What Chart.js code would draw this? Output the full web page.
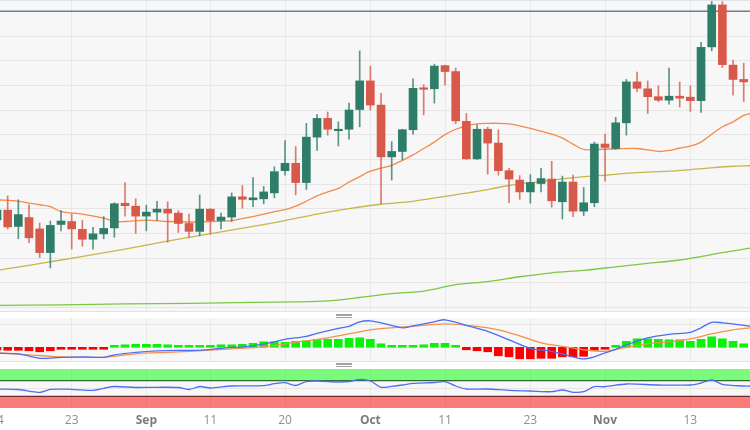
<!DOCTYPE html>
<html>
<head>
<meta charset="utf-8">
<script src="https://cdn.jsdelivr.net/npm/chart.js@4.4.0/dist/chart.umd.min.js"></script>
<style>
  body { margin: 0; background: #fff; width: 750px; height: 430px; overflow: hidden; position: relative; }
  canvas { position: absolute; left: 0; }
  .line { position: absolute; left: 0; width: 750px; height: 1px; background: #dfe4ea; }
  .grip { position: absolute; left: 336px; width: 16px; height: 1.5px; background: #a3a3a3; }
</style>
</head>
<body>
<canvas id="mainChart" width="750" height="311" style="top:0"></canvas>
<div class="line" style="top:0"></div>
<div class="line" style="top:311px"></div>
<div class="grip" style="top:314px"></div>
<div class="grip" style="top:316.5px"></div>
<canvas id="macdChart" width="750" height="43" style="top:318px"></canvas>
<div class="line" style="top:361px"></div>
<div class="grip" style="top:363px"></div>
<div class="grip" style="top:365.5px"></div>
<canvas id="rsiChart" width="750" height="61" style="top:369px"></canvas>

<script>
// daily candles, Aug 14 -> Nov 20 (trading days only, index 0..70)
const open = [160.27,160.47,160.14,160.32,160.09,159.61,160.18,160.24,160.08,159.88,
  159.99,160.11,160.61,160.55,160.35,160.43,160.49,160.41,160.20,160.04,
  160.49,160.26,160.33,160.74,160.68,160.70,160.82,161.27,161.42,161.03,
  161.95,162.33,162.08,162.11,162.51,163.09,162.60,161.55,161.66,162.10,
  162.95,162.93,163.40,163.28,162.27,161.51,162.11,161.83,161.27,161.08,
  160.84,161.01,161.10,160.64,161.04,160.45,160.62,161.81,161.72,162.24,
  163.07,162.93,162.77,162.70,162.78,162.76,162.69,163.78,164.63,163.41,
  163.12];
const high = [160.57,160.76,160.68,160.58,160.21,160.25,160.46,160.39,160.26,160.12,
  160.34,160.62,161.03,160.70,160.57,160.65,160.64,160.46,160.39,160.78,
  160.50,160.41,160.82,160.97,161.13,160.95,161.35,161.88,161.76,162.23,
  162.41,162.46,162.26,162.64,163.70,163.39,162.84,161.86,162.11,163.13,
  163.01,163.43,163.41,163.35,162.43,162.20,162.15,162.10,161.32,161.17,
  161.19,161.32,161.46,161.16,161.18,160.93,161.85,162.01,162.35,163.12,
  163.27,163.09,162.99,163.35,163.07,162.99,163.87,164.70,164.70,163.51,
  163.45];
const low = [160.17,160.09,159.89,159.81,159.51,159.30,160.05,159.68,159.74,159.68,
  159.89,159.92,160.35,160.00,160.05,160.26,159.82,160.02,159.92,159.95,
  159.98,160.09,160.24,160.51,160.54,160.60,160.72,161.18,160.78,160.89,
  161.68,161.99,161.77,161.91,162.16,162.50,160.60,161.08,161.49,162.01,
  162.40,162.64,163.01,162.22,161.50,161.50,161.20,161.18,160.62,160.69,
  160.61,160.84,160.53,160.29,160.34,160.36,160.54,161.06,161.71,161.99,
  162.87,162.43,162.67,162.62,162.56,162.47,162.45,163.70,163.36,162.80,
  162.67];
const close = [160.47,160.13,160.38,159.91,159.61,160.16,160.25,160.09,159.88,159.99,
  160.10,160.60,160.56,160.35,160.43,160.49,160.41,160.20,160.04,160.49,
  160.26,160.33,160.74,160.69,160.72,160.84,161.25,161.42,161.03,161.95,
  162.33,162.11,162.11,162.50,163.09,162.60,161.55,161.66,162.10,162.94,
  162.92,163.39,163.28,162.28,161.51,162.11,161.83,161.27,161.10,160.84,
  161.03,161.11,160.66,161.04,160.45,160.62,161.81,161.74,162.24,163.07,
  162.94,162.77,162.70,162.78,162.74,162.69,163.77,164.63,163.42,163.12,
  163.07];

// moving averages (x = candle index)
const maFastIdx = [0,2,4,5,6,8,10,11,12,14,16,18,20,22,24,25,26,27,28,29,30,31,32,33,34,35,36,37,38,39,40,41,42,43,44,45,46,47,48,49,50,51,52,53,54,55,56,58,60,62,63,64,65,66,67,68,69,70,70.6];
const maFastVal = [160.68,160.65,160.58,160.54,160.44,160.39,160.31,160.24,160.24,160.27,160.24,160.23,160.24,160.26,160.34,160.39,160.44,160.48,160.55,160.65,
  160.76,160.84,160.91,161.04,161.15,161.26,161.32,161.38,161.48,161.59,161.72,161.85,162.00,162.11,162.18,162.22,162.23,162.23,162.22,162.18,162.13,162.07,162.01,161.93,161.81,161.70,161.70,
  161.71,161.72,161.66,161.68,161.73,161.77,161.85,162.01,162.16,162.26,162.39,162.43];
const maMidIdx = [0,3,6,9,12,15,18,21,24,27,30,33,36,39,42,45,48,51,54,57,60,63,66,69,70.6];
const maMidVal = [159.25,159.35,159.46,159.57,159.68,159.80,159.92,160.03,160.14,160.26,160.39,160.50,160.59,160.65,160.75,160.85,160.97,161.05,161.13,161.18,161.23,161.26,161.31,161.36,161.37];
const maSlowIdx = [0,6,12,18,24,28,31,34,37,40,43,46,49,52,55,58,61,64,66,68,70.6];
const maSlowVal = [158.54,158.55,158.57,158.58,158.60,158.61,158.63,158.70,158.78,158.83,158.96,159.02,159.12,159.20,159.25,159.32,159.39,159.46,159.53,159.61,159.70];
const levels = [164.5];

// MACD panel
const macdHist = [-0.05,-0.06,-0.06,-0.07,-0.09,-0.07,-0.04,-0.03,-0.03,-0.03,
  -0.01,0.04,0.05,0.06,0.06,0.06,0.05,0.03,0.03,0.03,
  0.03,0.05,0.05,0.06,0.08,0.11,0.11,0.10,0.12,0.13,
  0.16,0.16,0.16,0.18,0.19,0.16,0.07,0.01,0.01,0.04,
  0.05,0.08,0.08,0.01,-0.05,-0.07,-0.09,-0.17,-0.19,-0.23,
  -0.23,-0.22,-0.22,-0.19,-0.19,-0.18,-0.06,-0.04,0.03,0.12,
  0.17,0.17,0.16,0.15,0.15,0.12,0.16,0.21,0.17,0.12,
  0.07];
const macdIdx = [0,2,4,6,8,10,11,13,15,17,19,21,24,26,27,29,30,32,33,34,35,36,38,39,41,42,44,46,48,50,52,54,55,56,57,58,59,61,63,65,66,67,68,70,70.6];
const macdVal = [-0.12,-0.13,-0.22,-0.20,-0.19,-0.20,-0.15,-0.10,-0.07,-0.06,-0.06,-0.02,0.03,0.11,0.16,0.22,0.28,0.38,0.42,0.51,
  0.53,0.49,0.39,0.43,0.51,0.55,0.44,0.32,0.15,-0.02,-0.08,-0.19,-0.23,-0.19,-0.11,-0.04,0.05,0.19,0.26,0.30,0.39,0.50,0.49,0.44,0.42];
const signalIdx = [0,3,6,10,13,16,18,22,25,28,31,34,35,37,39,42,45,47,49,51,53,55,57,59,61,63,65,67,69,70.6];
const signalVal = [-0.11,-0.15,-0.19,-0.20,-0.13,-0.10,-0.08,-0.03,0.01,0.10,0.19,0.31,0.35,0.39,0.42,0.47,0.42,0.35,0.23,0.09,0.02,-0.05,-0.08,0.00,0.07,0.11,0.17,0.27,0.35,0.39];

// RSI panel
const rsiIdx = [0,2,4,5,7,9,10,11,13,15,17,18,19,20,22,25,26,27,28,29,30,32,33,34,35,36,37,38,39,41,42,43,44,46,48,50,52,53,54,55,56,57,59,62,65,66,67,68,70,70.6];
const rsiVal = [48.7,47.4,40.3,47.9,47.9,45.4,50.5,55.1,52.6,53.1,52.6,47.4,55.1,51.3,56.4,57.2,62.3,64.9,57.7,67.9,
  69.2,66.7,67.9,73.1,69.2,53.1,55.6,59.0,63.3,65.4,67.4,56.4,48.7,48.7,45.4,43.6,41.8,46.2,40.3,41.8,
  54.6,54.6,61.5,59.0,59.0,64.1,71.8,60.8,56.4,56.4];
const rsiLevels = [30, 70];

// x axis labels
const tickIdx = [0, 7, 14, 20, 27, 35, 42, 50, 57, 65];
const tickLabels = ["14", "23", "Sep", "11", "20", "Oct", "11", "23", "Nov", "13"];

const xMin = 0.28;
const xMax = 70.59;
const UP = "#2e7d69";
const DOWN = "#d8594a";

const pts = (xs, ys) => xs.map((x, i) => ({ x: x, y: ys[i] }));
const isMonth = (i) => isNaN(Number(tickLabels[i]));

const bgPlugin = {
  id: "bg",
  beforeDraw(chart) {
    const { ctx, chartArea: a } = chart;
    ctx.save();
    ctx.fillStyle = "#f7f7f7";
    ctx.fillRect(a.left, a.top, a.right - a.left, a.bottom - a.top);
    ctx.restore();
  },
};

function xAxis(showLabels) {
  return {
    type: "linear",
    min: xMin,
    max: xMax,
    offset: false,
    grid: { color: "#e8e8e8", drawTicks: false, offset: false },
    border: { display: false },
    afterBuildTicks: (scale) => {
      scale.ticks = tickIdx.map((v) => ({ value: v }));
    },
    ticks: showLabels
      ? {
          autoSkip: false,
          maxRotation: 0,
          padding: 5,
          callback: (value, index) => tickLabels[index],
          color: (c) => (isMonth(c.index) ? "#7b7b7b" : "#8e8e8e"),
          font: (c) => ({ family: "Open Sans", size: 12, weight: isMonth(c.index) ? "bold" : "normal" }),
        }
      : { display: false },
    afterFit: (scale) => {
      scale.height = showLabels ? 22 : 0;
      scale.paddingLeft = 0;
      scale.paddingRight = 0;
    },
  };
}

function yAxis(min, max, ticks) {
  return {
    min: min,
    max: max,
    grid: { color: "#e6e6e6", drawTicks: false },
    border: { display: false },
    ticks: { display: false },
    afterBuildTicks: (scale) => {
      scale.ticks = ticks.map((v) => ({ value: v }));
    },
    afterFit: (scale) => {
      scale.width = 0;
    },
  };
}

function baseOptions(scales) {
  return {
    responsive: false,
    animation: false,
    layout: { padding: 0 },
    plugins: { legend: { display: false }, tooltip: { enabled: false } },
    scales: scales,
  };
}

function lineSet(data, color, width, order) {
  return {
    type: "line",
    data: data,
    borderColor: color,
    borderWidth: width,
    pointRadius: 0,
    tension: 0.3,
    fill: false,
    order: order,
  };
}

// main price panel
const candleColor = (i) => (close[i] >= open[i] ? UP : DOWN);
const priceTicks = [158.5, 159, 159.5, 160, 160.5, 161, 161.5, 162, 162.5, 163, 163.5, 164];

new Chart(document.getElementById("mainChart"), {
  type: "bar",
  data: {
    datasets: [
      {
        data: open.map((o, i) => ({ x: i, y: [low[i], high[i]] })),
        backgroundColor: open.map((o, i) => candleColor(i) + "cc"),
        barThickness: 1,
        grouped: false,
        order: 1,
      },
      {
        data: open.map((o, i) => ({ x: i, y: [Math.min(o, close[i]), Math.max(o, close[i])] })),
        backgroundColor: open.map((o, i) => candleColor(i)),
        barThickness: 8,
        minBarLength: 1.5,
        grouped: false,
        order: 0,
      },
      lineSet(pts(maFastIdx, maFastVal), "#f58a4b", 1.3, 3),
      lineSet(pts(maMidIdx, maMidVal), "#c6b64c", 1.3, 4),
      lineSet(pts(maSlowIdx, maSlowVal), "#7cc842", 1.3, 5),
      lineSet([{ x: xMin, y: levels[0] }, { x: xMax, y: levels[0] }], "#6f7d90", 1.5, 2),
    ],
  },
  options: baseOptions({ x: xAxis(false), y: yAxis(158.426, 164.73, priceTicks) }),
  plugins: [bgPlugin],
});

// MACD panel
new Chart(document.getElementById("macdChart"), {
  type: "bar",
  data: {
    datasets: [
      {
        data: macdHist.map((v, i) => ({ x: i, y: v })),
        backgroundColor: macdHist.map((v) => (v >= 0 ? "#0af20a" : "#fb0000")),
        barThickness: 8,
        minBarLength: 2,
        grouped: false,
        order: 3,
      },
      lineSet(pts(signalIdx, signalVal), "#f5914e", 1.3, 1),
      lineSet(pts(macdIdx, macdVal), "#4c6ef2", 1.3, 0),
    ],
  },
  options: baseOptions({ x: xAxis(false), y: yAxis(-0.274, 0.586, [0.45]) }),
  plugins: [bgPlugin],
});

// RSI panel
new Chart(document.getElementById("rsiChart"), {
  type: "line",
  data: {
    datasets: [
      {
        data: [{ x: xMin, y: rsiLevels[1] }, { x: xMax, y: rsiLevels[1] }],
        borderColor: "#2f6b2f",
        borderWidth: 1.3,
        backgroundColor: "rgba(0,255,0,0.5)",
        fill: "end",
        pointRadius: 0,
        order: 2,
      },
      {
        data: [{ x: xMin, y: rsiLevels[0] }, { x: xMax, y: rsiLevels[0] }],
        borderColor: "#6e2b2b",
        borderWidth: 1.3,
        backgroundColor: "rgba(255,0,0,0.5)",
        fill: "start",
        pointRadius: 0,
        order: 2,
      },
      lineSet(pts(rsiIdx, rsiVal), "#4f6ff0", 1.3, 0),
    ],
  },
  options: baseOptions({ x: xAxis(true), y: yAxis(0, 100, [50]) }),
  plugins: [bgPlugin],
});
</script>
</body>
</html>
